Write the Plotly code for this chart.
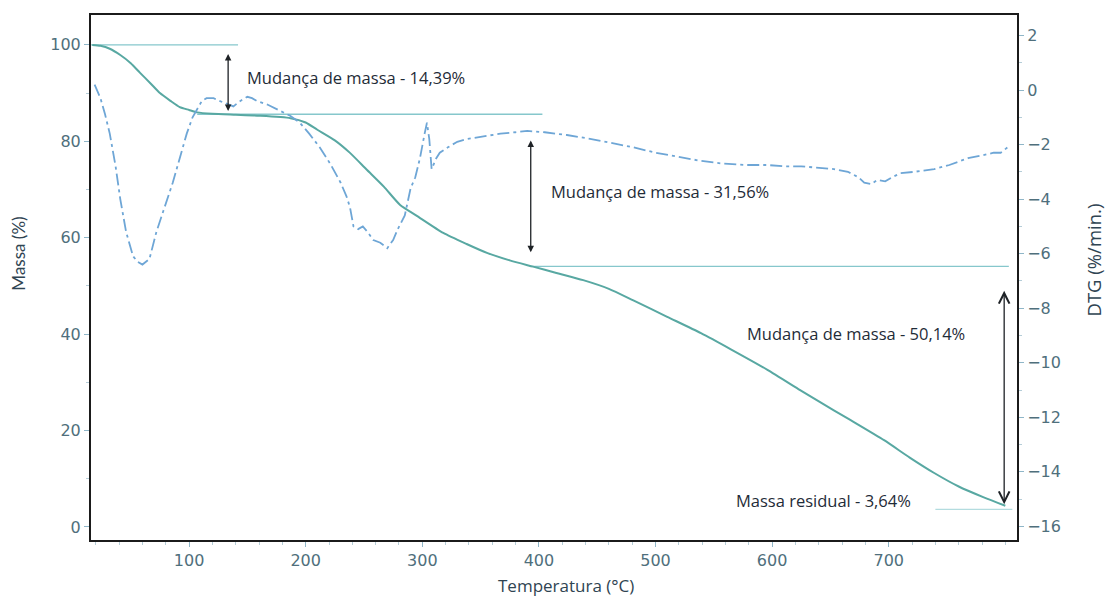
import plotly.graph_objects as go

# TG curve: temperature (°C) and residual mass (%)
temp_tg = [17, 24, 32, 41, 50, 58, 67, 75, 84, 92, 100, 107, 120, 140, 160, 187, 200, 210, 225,
           238, 252, 267, 281, 295, 318, 338, 356, 375, 395, 415, 438, 460, 481, 510, 539, 565,
           596, 624, 639, 667, 696, 718, 739, 760, 781, 800]
mass_tg = [100, 99.8, 99.2, 97.9, 96.2, 94.2, 92.0, 90.0, 88.4, 87.1, 86.5, 86.0, 85.7, 85.5,
           85.3, 84.8, 83.9, 82.4, 80.2, 77.6, 74.2, 70.6, 66.8, 64.6, 61.0, 58.7, 56.8, 55.3,
           54.0, 52.7, 51.2, 49.4, 47.0, 43.6, 40.2, 36.8, 32.6, 28.4, 26.2, 22.2, 18.0, 14.4,
           11.2, 8.4, 6.2, 4.4]

# DTG curve: temperature (°C) and rate (%/min)
temp_dtg = [19, 24, 28, 32, 37, 41, 46, 52, 56, 60, 66, 72, 79, 86, 92, 98, 103, 107, 111, 115,
            121, 126, 132, 138, 144, 150, 154, 158, 168, 178, 187, 195, 203, 212, 221, 230, 235,
            238, 241, 245, 249, 253, 258, 264, 270, 275, 279, 285, 290, 294, 298, 302, 304, 306,
            308, 312, 315, 322, 330, 338, 352, 367, 380, 390, 405, 424, 445, 463, 481, 500, 520,
            539, 558, 577, 596, 610, 625, 640, 653, 665, 674, 679, 685, 690, 697, 703, 710, 722,
            739, 752, 768, 780, 790, 796, 802]
dtg = [0.2, -0.3, -0.9, -1.6, -2.8, -4.0, -5.2, -6.1, -6.3, -6.4, -6.2, -5.2, -4.3, -3.4, -2.5,
       -1.6, -1.0, -0.7, -0.4, -0.3, -0.3, -0.4, -0.5, -0.6, -0.4, -0.25, -0.3, -0.4, -0.55,
       -0.75, -0.95, -1.2, -1.6, -2.1, -2.7, -3.4, -3.9, -4.3, -5.0, -5.1, -5.0, -5.2, -5.5,
       -5.6, -5.8, -5.5, -5.1, -4.6, -3.6, -3.2, -2.5, -1.6, -1.2, -1.8, -2.9, -2.5, -2.3,
       -2.1, -1.9, -1.8, -1.7, -1.6, -1.55, -1.5, -1.55, -1.65, -1.8, -1.95, -2.1, -2.3,
       -2.45, -2.6, -2.7, -2.75, -2.75, -2.8, -2.8, -2.85, -2.9, -3.0, -3.2, -3.4, -3.45,
       -3.3, -3.35, -3.2, -3.05, -3.0, -2.9, -2.75, -2.5, -2.4, -2.3, -2.3, -2.1]

# Mass-step reference levels (%) and their temperature spans (°C)
step_levels = [100.0, 85.61, 54.05, 3.64]
step_spans = [(16, 142), (107, 403), (393, 803), (740, 806)]
step_colors = ["#86c7cc", "#86c7cc", "#86c7cc", "#b3dcdf"]

# Double arrows marking each mass change: (temperature, upper mass, lower mass, head style, size)
arrows = [(133.5, 98.4, 86.3, 2, 1.0), (393, 80.5, 57.0, 2, 1.0), (799, 49.3, 4.7, 5, 1.6)]

# Text labels: (temperature, mass, text)
labels = [
    (148, 93.2, "Mudança de massa - 14,39%"),
    (409, 69.5, "Mudança de massa - 31,56%"),
    (577, 40.2, "Mudança de massa - 50,14%"),
    (567, 5.5, "Massa residual - 3,64%"),
]

TG_COLOR = "#58a8a2"
DTG_COLOR = "#6ea6d6"
TICK_FONT = dict(family="DejaVu Sans", size=16, color="#4f6f7c")
TITLE_COLOR = "#2f4452"
LABEL_FONT = dict(family="Open Sans, sans-serif", size=16.5, color="#1f2c38")

fig = go.Figure()

for lvl, (t0, t1), col in zip(step_levels, step_spans, step_colors):
    fig.add_trace(go.Scatter(x=[t0, t1], y=[lvl, lvl], mode="lines",
                             line=dict(color=col, width=1.3),
                             showlegend=False, hoverinfo="skip"))

fig.add_trace(go.Scatter(x=temp_tg, y=mass_tg, mode="lines", name="TG",
                         line=dict(color=TG_COLOR, width=2, shape="spline", smoothing=0.6),
                         showlegend=False))

fig.add_trace(go.Scatter(x=temp_dtg, y=dtg, mode="lines", name="DTG", yaxis="y2",
                         line=dict(color=DTG_COLOR, width=1.8, dash="12px,4px,3px,4px"),
                         showlegend=False))

for t, top, bot, head, size in arrows:
    fig.add_annotation(x=t, y=bot, ax=t, ay=top, xref="x", yref="y", axref="x", ayref="y",
                       showarrow=True, arrowhead=head, startarrowhead=head,
                       arrowside="end+start", arrowsize=size, startarrowsize=size,
                       arrowwidth=1.3, arrowcolor="#1e2226", text="")

for t, m, txt in labels:
    fig.add_annotation(x=t, y=m, xref="x", yref="y", text=txt, showarrow=False,
                       xanchor="left", yanchor="middle", font=LABEL_FONT)

# Axis titles placed in paper coordinates
fig.add_annotation(x=0.513, y=-0.086, xref="paper", yref="paper", text="Temperatura (°C)",
                   showarrow=False, xanchor="center", yanchor="middle",
                   font=dict(family="Open Sans, sans-serif", size=17, color=TITLE_COLOR))
fig.add_annotation(x=-0.078, y=0.545, xref="paper", yref="paper", text="Massa (%)",
                   showarrow=False, xanchor="center", yanchor="middle", textangle=-90,
                   font=dict(family="Lato, sans-serif", size=17, color=TITLE_COLOR))
fig.add_annotation(x=1.083, y=0.534, xref="paper", yref="paper", text="DTG (%/min.)",
                   showarrow=False, xanchor="center", yanchor="middle", textangle=-90,
                   font=dict(family="Open Sans, sans-serif", size=18.5, color=TITLE_COLOR))

fig.update_layout(
    width=1105, height=600,
    margin=dict(l=91, r=88, t=15, b=60),
    paper_bgcolor="white", plot_bgcolor="white",
    xaxis=dict(range=[15.9, 810], tickmode="array", tickvals=[100, 200, 300, 400, 500, 600, 700],
               ticktext=["100", "200", "300", "400", "500", "600", "700"],
               ticks="outside", ticklen=5, tickcolor="#8fb6c8", tickfont=TICK_FONT,
               minor=dict(dtick=20, tick0=0, ticks="outside", ticklen=3, tickcolor="#b5cdd8"),
               showgrid=False, zeroline=False, showline=True, linecolor="#1b1b1b", linewidth=2,
               mirror=True),
    yaxis=dict(range=[-2.7, 106.2], tickvals=[0, 20, 40, 60, 80, 100],
               ticks="outside", ticklen=5, tickcolor="#8fb6c8", tickfont=TICK_FONT,
               minor=dict(dtick=10, tick0=0, ticks="outside", ticklen=3, tickcolor="#b5cdd8"),
               showgrid=False, zeroline=False, showline=True, linecolor="#1b1b1b", linewidth=2,
               mirror=True),
    yaxis2=dict(range=[-16.5, 2.75], overlaying="y", side="right",
                tickvals=[2, 0, -2, -4, -6, -8, -10, -12, -14, -16],
                ticks="outside", ticklen=5, tickcolor="#8fb6c8", tickfont=TICK_FONT,
                minor=dict(dtick=1, tick0=0, ticks="outside", ticklen=3, tickcolor="#b5cdd8"),
                showgrid=False, zeroline=False, showline=True, linecolor="#1b1b1b", linewidth=2),
)

fig.write_html("out.html")
